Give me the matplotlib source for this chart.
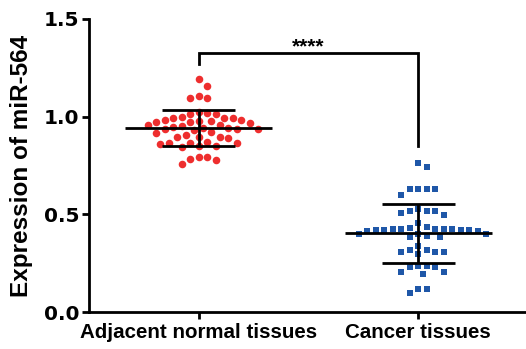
import numpy as np
import matplotlib
matplotlib.use("Agg")
import matplotlib.pyplot as plt

categories = ["Adjacent normal tissues", "Cancer tissues"]
normal = [1.191, 1.159, 1.096, 1.094, 1.106,
          1.022, 1.014, 0.997, 0.992, 0.983, 0.992, 0.993, 1.014, 1.017,
          0.978, 0.975, 0.969, 0.956, 0.971, 0.976, 0.983,
          0.932, 0.918, 0.937, 0.937, 0.940, 0.940, 0.952, 0.957, 0.923,
          0.945, 0.935,
          0.894, 0.894, 0.894, 0.905, 0.872, 0.864, 0.860, 0.850, 0.843,
          0.852, 0.864, 0.867, 0.889,
          0.795, 0.785, 0.758, 0.778, 0.792]
cancer = [0.765, 0.741, 0.631, 0.631, 0.597, 0.631, 0.631,
          0.517, 0.517, 0.495, 0.509, 0.517, 0.529, 0.457,
          0.423, 0.420, 0.420, 0.415, 0.427, 0.427, 0.427, 0.430, 0.434,
          0.416, 0.420, 0.420, 0.423,
          0.400, 0.390, 0.385, 0.385, 0.400, 0.400,
          0.317, 0.309, 0.309, 0.295, 0.309, 0.317, 0.338,
          0.236, 0.229, 0.236, 0.206, 0.195, 0.206, 0.229,
          0.119, 0.096, 0.119]
yticks = [0.0, 0.5, 1.0, 1.5]
sig_label = "****"

plt.rcParams['font.family'] = ['Liberation Sans', 'DejaVu Sans']
plt.rcParams['font.weight'] = 'bold'

fig = plt.figure(figsize=(5.26, 3.49), dpi=100)
ax = fig.add_axes([0.169, 0.106, 0.831, 0.8396])
ax.set_xlim(-0.5, 1.49)
ax.set_ylim(0, 1.5)

def swarm(vals, center, spacing_px):
    vals = np.asarray(vals)
    order = np.argsort(-vals)
    pix = ax.transData.transform(np.column_stack([np.full(len(vals), center), vals]))
    placed = []
    xs = np.zeros(len(vals))
    step = spacing_px / 2.0
    cands = [0.0]
    for k in range(1, 40):
        cands += [k * step, -k * step]
    for i in order:
        py = pix[i, 1]
        for c in cands:
            ok = True
            for (qx, qy) in placed:
                if (c - qx) ** 2 + (py - qy) ** 2 < (spacing_px * 0.97) ** 2:
                    ok = False
                    break
            if ok:
                placed.append((c, py))
                xs[i] = c
                break
    cx = pix[0, 0]
    data = ax.transData.inverted().transform(np.column_stack([cx + xs, pix[:, 1]]))
    return data[:, 0]

colors = ['#EE2E2E', '#1F57A8']
markers = ['o', 's']
msizes = [6.3, 5.6]
groups = [normal, cancer]
for i, vals in enumerate(groups):
    xs = swarm(vals, i, 8.5)
    ax.scatter(xs, vals, s=msizes[i] ** 2 * 0.75, marker=markers[i], color=colors[i],
               linewidths=0, zorder=2)
    m = np.mean(vals)
    sd = np.std(vals, ddof=1)
    ax.plot([i - 0.335, i + 0.335], [m, m], color='black', lw=2.0, zorder=3, solid_capstyle='butt')
    ax.plot([i, i], [m - sd, m + sd], color='black', lw=2.0, zorder=3, solid_capstyle='butt')
    for yy in (m - sd, m + sd):
        ax.plot([i - 0.167, i + 0.167], [yy, yy], color='black', lw=2.0, zorder=3, solid_capstyle='butt')

# significance bracket
ax.plot([0, 0, 1, 1], [1.268, 1.328, 1.328, 0.85], color='black', lw=2.0,
        solid_joinstyle='miter', clip_on=False)
ax.text(0.5, 1.33, sig_label, ha='center', va='baseline', fontsize=15, fontweight='bold')

ax.set_xticks([0, 1])
ax.set_xticklabels(categories, fontsize=14.8, fontweight='bold')
ax.set_yticks(yticks)
ax.set_yticklabels([f"{t:.1f}" for t in yticks], fontsize=14.5, fontweight='bold',
                   family=['DejaVu Sans'])
ax.set_ylabel("Expression of miR-564", fontsize=17.5, fontweight='bold')
ax.yaxis.set_label_coords(-0.128, 0.498)
for s in ['top', 'right']:
    ax.spines[s].set_visible(False)
for s in ['left', 'bottom']:
    ax.spines[s].set_linewidth(2.0)
ax.tick_params(axis='both', width=2.0, length=5, pad=2)
ax.tick_params(axis='x', pad=3)

fig.savefig("out.png", dpi=100)
